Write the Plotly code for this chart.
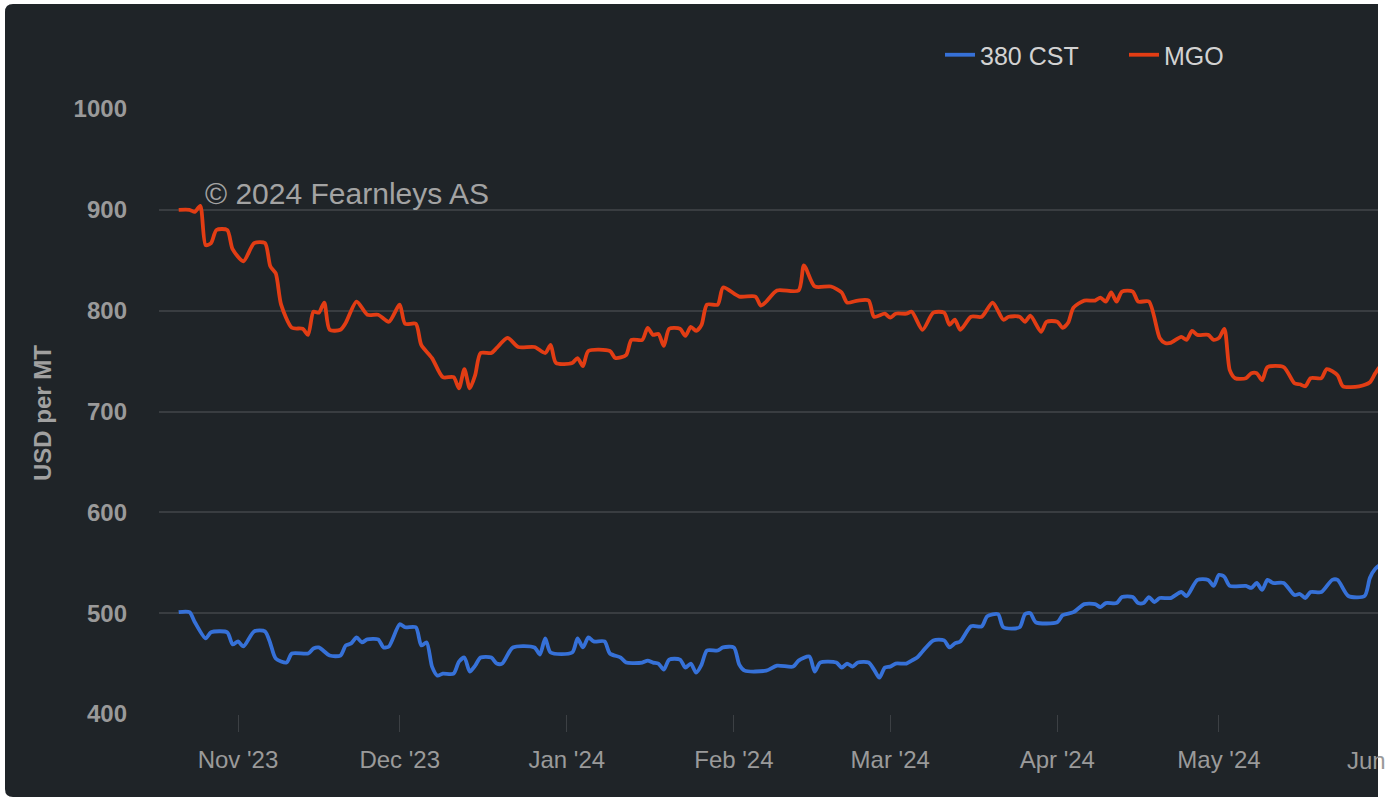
import plotly.graph_objects as go

# ---------------- data ----------------
mgo_dates = [
    "2023-10-21", "2023-10-23", "2023-10-24", "2023-10-25", "2023-10-26", "2023-10-27", "2023-10-28",
    "2023-10-30", "2023-10-31", "2023-11-02", "2023-11-04", "2023-11-06", "2023-11-07", "2023-11-08",
    "2023-11-09", "2023-11-11", "2023-11-13", "2023-11-14", "2023-11-15", "2023-11-16", "2023-11-17",
    "2023-11-18", "2023-11-20", "2023-11-21", "2023-11-23", "2023-11-25", "2023-11-27", "2023-11-29",
    "2023-12-01", "2023-12-02", "2023-12-04", "2023-12-05", "2023-12-07", "2023-12-09", "2023-12-11",
    "2023-12-12", "2023-12-13", "2023-12-14", "2023-12-15", "2023-12-16", "2023-12-18", "2023-12-19",
    "2023-12-21", "2023-12-23", "2023-12-26", "2023-12-28", "2023-12-29", "2023-12-30", "2024-01-02",
    "2024-01-03", "2024-01-04", "2024-01-05", "2024-01-09", "2024-01-10", "2024-01-12", "2024-01-13",
    "2024-01-15", "2024-01-16", "2024-01-17", "2024-01-18", "2024-01-19", "2024-01-20", "2024-01-22",
    "2024-01-23", "2024-01-24", "2024-01-25", "2024-01-26", "2024-01-27", "2024-01-29", "2024-01-30",
    "2024-02-02", "2024-02-05", "2024-02-06", "2024-02-07", "2024-02-09", "2024-02-13", "2024-02-14",
    "2024-02-16", "2024-02-19", "2024-02-21", "2024-02-22", "2024-02-24", "2024-02-26", "2024-02-27",
    "2024-02-29", "2024-03-01", "2024-03-02", "2024-03-04", "2024-03-05", "2024-03-07", "2024-03-09",
    "2024-03-11", "2024-03-12", "2024-03-13", "2024-03-14", "2024-03-16", "2024-03-18", "2024-03-20",
    "2024-03-22", "2024-03-23", "2024-03-25", "2024-03-26", "2024-03-27", "2024-03-29", "2024-03-30",
    "2024-04-01", "2024-04-02", "2024-04-03", "2024-04-04", "2024-04-06", "2024-04-08", "2024-04-09",
    "2024-04-10", "2024-04-11", "2024-04-12", "2024-04-13", "2024-04-15", "2024-04-16", "2024-04-18",
    "2024-04-20", "2024-04-21", "2024-04-22", "2024-04-24", "2024-04-25", "2024-04-26", "2024-04-27",
    "2024-04-29", "2024-04-30", "2024-05-01", "2024-05-02", "2024-05-03", "2024-05-04", "2024-05-06",
    "2024-05-07", "2024-05-08", "2024-05-09", "2024-05-10", "2024-05-13", "2024-05-15", "2024-05-16",
    "2024-05-17", "2024-05-18", "2024-05-20", "2024-05-21", "2024-05-23", "2024-05-24", "2024-05-27",
    "2024-05-29", "2024-05-30", "2024-05-31", "2024-06-03",
]
mgo_values = [
    900, 900, 898, 904, 865, 867, 880,
    880, 861, 849, 867, 867, 844, 837,
    806, 783, 782, 776, 799, 798, 808,
    781, 781, 788, 809, 796, 796, 789,
    806, 787, 787, 766, 753, 734, 734,
    723, 742, 723, 736, 758, 758, 763,
    773, 764, 764, 758, 766, 748, 748,
    753, 745, 760, 760, 753, 756, 771,
    771, 783, 776, 777, 765, 782, 782,
    775, 784, 780, 786, 806, 806, 823,
    814, 814, 805, 809, 820, 820, 845,
    824, 824, 818, 808, 810, 810, 794,
    797, 793, 797, 797, 799, 781, 798,
    798, 786, 791, 781, 794, 794, 808,
    791, 794, 794, 789, 795, 779, 789,
    789, 783, 788, 803, 810, 810, 813,
    809, 818, 809, 819, 819, 809, 809,
    773, 768, 768, 774, 771, 780, 776,
    776, 771, 773, 782, 741, 733, 733,
    738, 738, 731, 744, 744, 728, 727,
    725, 733, 733, 742, 736, 725, 725,
    729, 738, 745, 745,
]

cst_dates = [
    "2023-10-21", "2023-10-23", "2023-10-24", "2023-10-26", "2023-10-27", "2023-10-30", "2023-10-31",
    "2023-11-01", "2023-11-02", "2023-11-04", "2023-11-06", "2023-11-07", "2023-11-08", "2023-11-10",
    "2023-11-11", "2023-11-14", "2023-11-15", "2023-11-16", "2023-11-18", "2023-11-20", "2023-11-21",
    "2023-11-22", "2023-11-23", "2023-11-24", "2023-11-25", "2023-11-27", "2023-11-28", "2023-11-29",
    "2023-12-01", "2023-12-02", "2023-12-04", "2023-12-05", "2023-12-06", "2023-12-07", "2023-12-08",
    "2023-12-09", "2023-12-11", "2023-12-12", "2023-12-13", "2023-12-14", "2023-12-15", "2023-12-16",
    "2023-12-18", "2023-12-19", "2023-12-20", "2023-12-22", "2023-12-26", "2023-12-27", "2023-12-28",
    "2023-12-29", "2024-01-02", "2024-01-03", "2024-01-04", "2024-01-05", "2024-01-06", "2024-01-08",
    "2024-01-09", "2024-01-11", "2024-01-12", "2024-01-15", "2024-01-16", "2024-01-17", "2024-01-18",
    "2024-01-19", "2024-01-20", "2024-01-22", "2024-01-23", "2024-01-24", "2024-01-25", "2024-01-26",
    "2024-01-27", "2024-01-29", "2024-01-30", "2024-02-01", "2024-02-02", "2024-02-03", "2024-02-07",
    "2024-02-09", "2024-02-12", "2024-02-13", "2024-02-15", "2024-02-16", "2024-02-17", "2024-02-20",
    "2024-02-21", "2024-02-22", "2024-02-23", "2024-02-24", "2024-02-26", "2024-02-27", "2024-02-28",
    "2024-02-29", "2024-03-01", "2024-03-02", "2024-03-04", "2024-03-05", "2024-03-06", "2024-03-07",
    "2024-03-09", "2024-03-11", "2024-03-12", "2024-03-13", "2024-03-14", "2024-03-16", "2024-03-18",
    "2024-03-19", "2024-03-21", "2024-03-22", "2024-03-25", "2024-03-26", "2024-03-27", "2024-03-28",
    "2024-04-01", "2024-04-02", "2024-04-04", "2024-04-06", "2024-04-08", "2024-04-09", "2024-04-10",
    "2024-04-12", "2024-04-13", "2024-04-15", "2024-04-16", "2024-04-17", "2024-04-18", "2024-04-19",
    "2024-04-20", "2024-04-22", "2024-04-24", "2024-04-25", "2024-04-27", "2024-04-29", "2024-04-30",
    "2024-05-01", "2024-05-02", "2024-05-03", "2024-05-06", "2024-05-07", "2024-05-08", "2024-05-09",
    "2024-05-10", "2024-05-11", "2024-05-13", "2024-05-15", "2024-05-16", "2024-05-17", "2024-05-18",
    "2024-05-20", "2024-05-22", "2024-05-23", "2024-05-25", "2024-05-28", "2024-05-29", "2024-05-30",
    "2024-05-31", "2024-06-03",
]
cst_values = [
    501, 501, 491, 475, 481, 481, 469,
    472, 467, 482, 482, 470, 455, 451,
    460, 460, 465, 466, 458, 458, 468,
    470, 476, 471, 474, 474, 466, 467,
    489, 486, 486, 468, 471, 447, 438,
    440, 440, 452, 456, 442, 448, 456,
    456, 450, 450, 466, 466, 459, 475,
    461, 461, 475, 466, 476, 472, 472,
    460, 456, 451, 451, 453, 451, 450,
    444, 454, 454, 446, 450, 441, 449,
    463, 463, 466, 466, 449, 443, 443,
    448, 447, 453, 457, 442, 451, 451,
    446, 450, 447, 451, 451, 444, 436,
    446, 447, 450, 450, 453, 456, 462,
    473, 473, 466, 470, 472, 487, 487,
    497, 499, 486, 486, 499, 500, 491,
    491, 498, 501, 509, 509, 506, 510,
    510, 516, 516, 510, 510, 516, 511,
    515, 515, 521, 517, 533, 533, 527,
    538, 536, 527, 527, 525, 530, 523,
    533, 530, 530, 518, 519, 515, 521,
    521, 533, 533, 517, 517, 535, 544,
    548, 548,
]

series_names = ["380 CST", "MGO"]
series_colors = ["#3671d8", "#e23d14"]

month_ticks = ["2023-11-01", "2023-12-01", "2024-01-01", "2024-02-01",
               "2024-03-01", "2024-04-01", "2024-05-01"]
month_labels = ["Nov '23", "Dec '23", "Jan '24", "Feb '24", "Mar '24", "Apr '24", "May '24"]
y_ticks = [400, 500, 600, 700, 800, 900, 1000]

# ---------------- figure ----------------
W, H = 1386, 801
L, R, T, B = 159, 8, 109, 87
PW, PH = W - L - R, H - T - B


def px(x):
    return (x - L) / PW


def py(y):
    return (H - B - y) / PH


BG = "#1f2428"
FONT = "Liberation Sans, Arial, Helvetica, sans-serif"

fig = go.Figure()
for name, color, xs, ys in [
    (series_names[0], series_colors[0], cst_dates, cst_values),
    (series_names[1], series_colors[1], mgo_dates, mgo_values),
]:
    fig.add_trace(go.Scatter(
        x=xs, y=ys, name=name, mode="lines",
        line=dict(color=color, width=3.8, shape="spline", smoothing=0.7),
        hoverinfo="skip",
    ))

# dark rounded panel
x0, x1 = px(5), px(1378)
y0, y1 = py(797), py(4)
rx, ry = 8 / PW, 8 / PH
panel_path = (
    f"M {x0+rx},{y1} L {x1},{y1} L {x1},{y0} L {x0+rx},{y0} "
    f"Q {x0},{y0} {x0},{y0+ry} L {x0},{y1-ry} Q {x0},{y1} {x0+rx},{y1} Z"
)

fig.update_layout(
    width=W, height=H,
    margin=dict(l=L, r=R, t=T, b=B, pad=0),
    paper_bgcolor="#ffffff",
    plot_bgcolor="rgba(0,0,0,0)",
    font=dict(family=FONT),
    showlegend=True,
    shapes=[dict(type="path", path=panel_path, xref="paper", yref="paper",
                 fillcolor=BG, line=dict(width=0), layer="below")],
    legend=dict(
        orientation="h", x=px(940), y=py(55), xanchor="left", yanchor="middle",
        font=dict(size=25, color="#d2d2d2", family=FONT),
        bgcolor="rgba(0,0,0,0)",
        entrywidth=139,
    ),
    xaxis=dict(
        type="date",
        range=["2023-10-17 08:14", "2024-05-30 12:00"],
        tickmode="array", tickvals=month_ticks, ticktext=month_labels,
        ticks="outside", ticklen=17, tickwidth=1, tickcolor="#3c4044",
        showgrid=False, zeroline=False, showline=False,
        tickfont=dict(size=24, color="#9a9a9a", family=FONT),
        ticklabelstandoff=7,
    ),
    yaxis=dict(
        range=[400, 1000],
        tickmode="array", tickvals=y_ticks,
        showgrid=True, gridcolor="#393d41", gridwidth=1.5,
        zeroline=False, showline=False, ticks="",
        tickfont=dict(size=24, color="#9a9a9a", family=FONT, weight="bold"),
        ticklabelstandoff=31,
    ),
    annotations=[
        dict(text="© 2024 Fearnleys AS", xref="paper", yref="paper",
             x=px(203), y=py(193), xanchor="left", yanchor="middle", showarrow=False,
             font=dict(size=30, color="#a3a3a3", family=FONT)),
        dict(text="USD per MT", xref="paper", yref="paper",
             x=px(43), y=py(413), xanchor="center", yanchor="middle", showarrow=False,
             textangle=-90,
             font=dict(size=24, color="#a0a0a0", family=FONT, weight="bold")),
        dict(text="Jun", xref="paper", yref="paper",
             x=px(1345), y=py(760), xanchor="left", yanchor="middle", showarrow=False,
             font=dict(size=24, color="#9a9a9a", family=FONT)),
    ],
)

fig.write_html("out.html", config={"displayModeBar": False},
               post_script="document.body.style.margin='0px';")
